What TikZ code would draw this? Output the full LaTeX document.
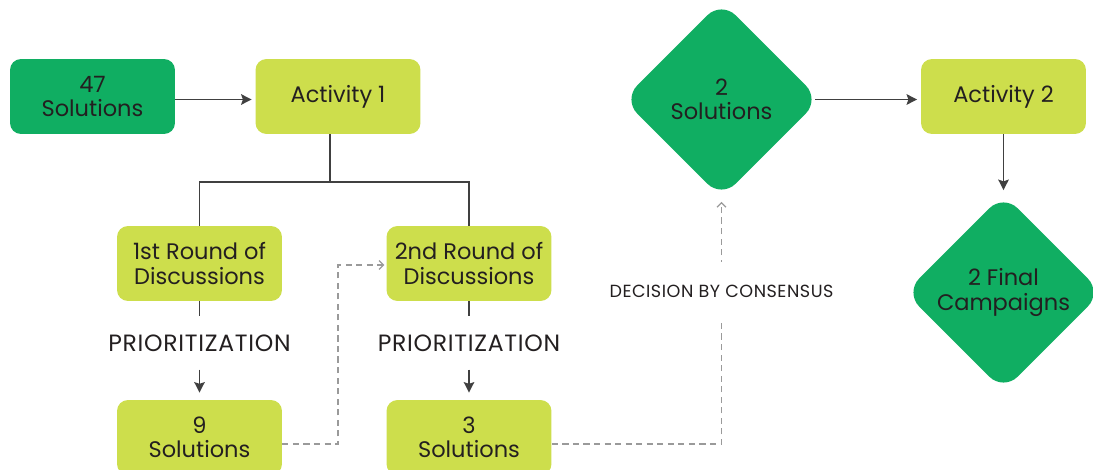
\documentclass[tikz,border=0pt]{standalone}
\usepackage{fontspec}
\setmainfont{Poppins}
\newfontfamily\capsfont{Poppins}[LetterSpace=3]
\usetikzlibrary{shapes.geometric,arrows.meta}

\definecolor{leafGreen}{HTML}{10AE62}
\definecolor{limeGreen}{HTML}{CDDE4C}
\definecolor{inkGray}{HTML}{404040}
\definecolor{dashGray}{HTML}{9A9A9A}
\definecolor{textInk}{HTML}{231F20}

\begin{document}
\begin{tikzpicture}[
		x=0.02cm, y=-0.02cm,
		solid line/.style={draw=inkGray, line width=0.85pt},
		solid arrow/.style={solid line, -{Stealth[length=6pt,width=6pt,inset=1pt]}},
		dashed arrow/.style={draw=dashGray, line width=0.75pt, dash pattern=on 3.5pt off 2.5pt, -{Straight Barb[length=2.5pt,width=5pt]}},
		every node/.style={text=textInk},
		]
		\tikzset{
			darkBox/.style={rectangle, rounded corners=0.22cm, fill=leafGreen, minimum width=3.3cm, minimum height=1.5cm, align=center, font=\fontsize{12.8}{14}\selectfont},
			limeBox/.style={darkBox, fill=limeGreen},
			darkDiamond/.style={diamond, aspect=1, rounded corners=0.4cm, fill=leafGreen, minimum width=3.94cm, minimum height=3.94cm, inner sep=0pt, align=center, font=\fontsize{12.8}{14}\selectfont},
			stepLabel/.style={font=\capsfont\fontsize{13.4}{15}\selectfont, inner xsep=0pt, inner ysep=0.36cm},
			decisionLabel/.style={fill=white, font=\capsfont\fontsize{10}{11}\selectfont, inner xsep=2pt, inner ysep=0.45cm},
		}
		\useasboundingbox (0,0) rectangle (1093,470);
		
		\node[darkBox] (sol47) at (92.5,96.5) {47\\Solutions};
		\node[limeBox] (act1) at (338,96.5) {Activity 1};
		\node[limeBox] (round1) at (199.5,263.5) {1st Round of\\Discussions};
		\node[limeBox] (round2) at (469,263.5) {2nd Round of\\Discussions};
		\node[stepLabel] (prio1) at (199.5,343) {PRIORITIZATION};
		\node[stepLabel] (prio2) at (469,343) {PRIORITIZATION};
		\node[limeBox] (sol9) at (199.5,437.5) {9\\Solutions};
		\node[limeBox] (sol3) at (469,437.5) {3\\Solutions};
		\node[darkDiamond] (sol2) at (721.5,99.5) {2\\Solutions};
		\node[limeBox] (act2) at (1003.5,96.5) {Activity 2};
		\node[darkDiamond] (final) at (1003.5,292.5) {2 Final\\Campaigns};
		
		\draw[solid arrow, shorten >=2pt] ([yshift=-0.06cm]sol47.east) -- ([yshift=-0.06cm]act1.west);
		
		\coordinate (fork) at (330,182);
		\draw[solid line] (act1.south -| fork) -- (fork);
		\draw[solid line] (round1.north) |- (fork) -| (round2.north);
		
		\foreach \rnd/\prio/\res in {round1/prio1/sol9, round2/prio2/sol3}{
			\draw[solid line] (\rnd.south) -- (\prio.north);
			\draw[solid arrow, shorten >=4pt] (\prio.south) -- (\res.north);
		}
		
		\coordinate (hop) at (338,265);
		\draw[dashed arrow, shorten >=1pt] ([yshift=-0.13cm]sol9.east) -| (hop) -- (round2.west |- hop);
		\draw[dashed arrow, shorten >=2pt] ([yshift=-0.13cm]sol3.east) -| (sol2.south);
		\node[decisionLabel] (consensus) at (721.5,291) {DECISION BY CONSENSUS};
		
		\draw[solid arrow, shorten <=-3pt, shorten >=2pt] (sol2.east) -- (act2.west |- sol2.east);
		\draw[solid arrow, shorten >=2pt] (act2) -- (final);
	\end{tikzpicture}
\end{document}
